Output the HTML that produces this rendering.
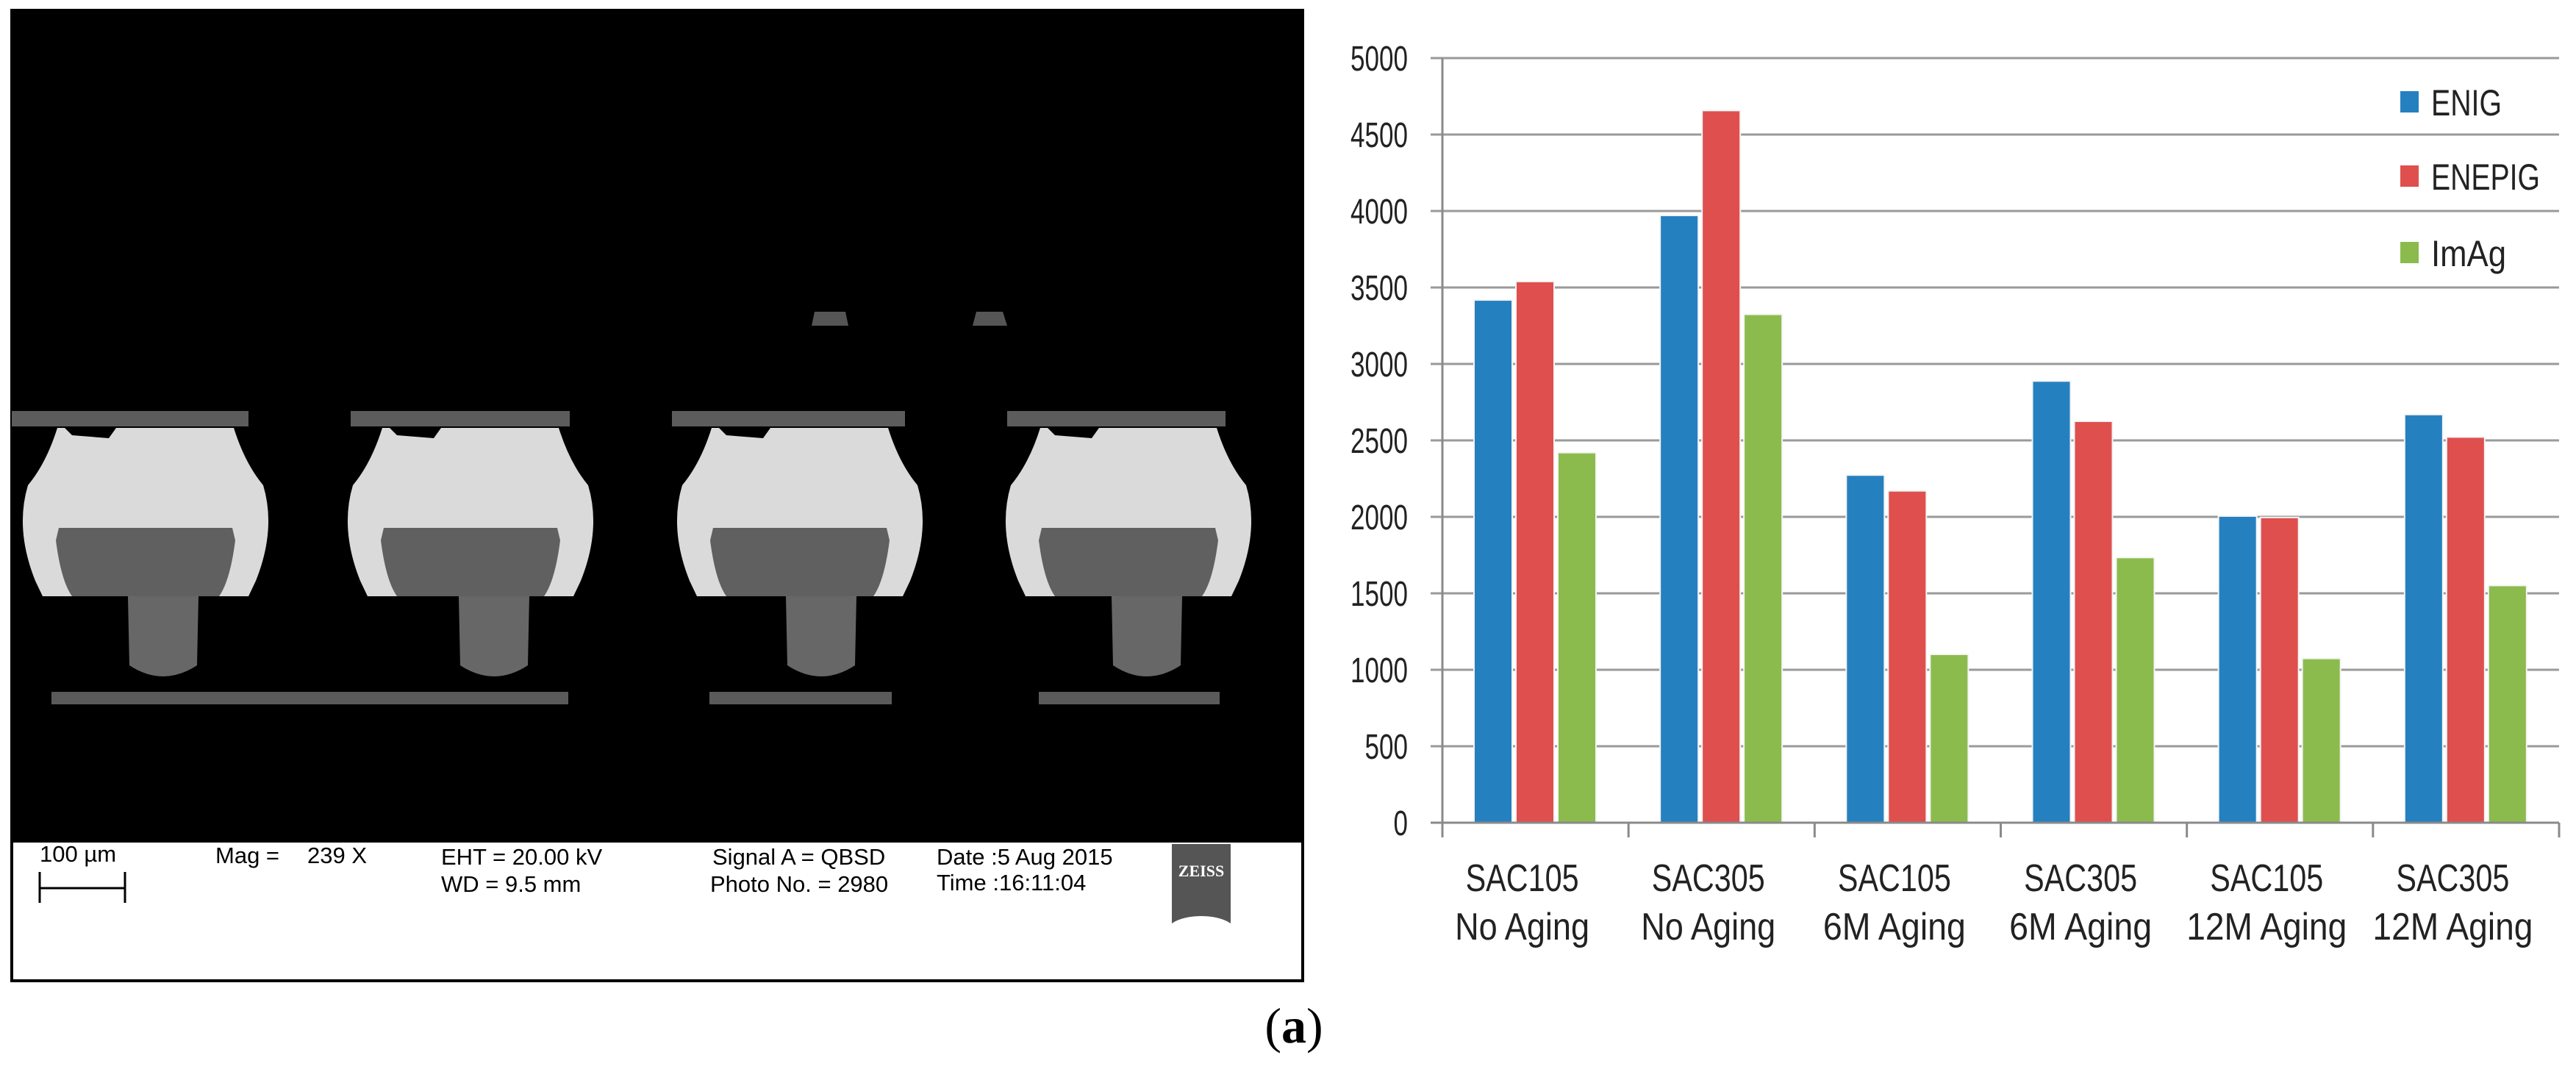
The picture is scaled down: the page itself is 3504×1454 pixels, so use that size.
<!DOCTYPE html>
<html><head><meta charset="utf-8"><style>
html,body{margin:0;padding:0;background:#fff;}
svg{display:block;}
text{font-family:"Liberation Sans",sans-serif;}
</style></head><body>
<svg id="root" width="3504" height="1454" viewBox="0 0 3504 1454" xmlns="http://www.w3.org/2000/svg">
  <g>
    <rect x="16" y="14" width="1756" height="1320" fill="#fff" stroke="#000" stroke-width="4"/>
    <rect x="16" y="14" width="1756" height="1132" fill="#000"/>
    <path d="M1104 443 L1108 424 L1150 424 L1154 443 Z" fill="#555"/>
    <path d="M1323 443 L1328 424 L1364 424 L1370 443 Z" fill="#555"/>
    <rect x="16" y="559" width="322" height="21" fill="#5c5c5c"/>
    <rect x="477" y="559" width="298" height="21" fill="#5c5c5c"/>
    <rect x="914" y="559" width="317" height="21" fill="#5c5c5c"/>
    <rect x="1370" y="559" width="297" height="21" fill="#5c5c5c"/>
    <rect x="70" y="941" width="703" height="17" fill="#5a5a5a"/>
    <rect x="965" y="941" width="248" height="17" fill="#5a5a5a"/>
    <rect x="1413" y="941" width="246" height="17" fill="#5a5a5a"/>
    <g id="balls"></g>
    <g font-size="31" fill="#000">
      <text x="54" y="1172">100 µm</text>
      <line x1="54" y1="1208" x2="170" y2="1208" stroke="#000" stroke-width="3"/>
      <line x1="54" y1="1186" x2="54" y2="1228" stroke="#000" stroke-width="3"/>
      <line x1="170" y1="1186" x2="170" y2="1228" stroke="#000" stroke-width="3"/>
      <text x="293" y="1174">Mag =</text>
      <text x="418" y="1174">239 X</text>
      <text x="600" y="1176">EHT = 20.00 kV</text>
      <text x="600" y="1213">WD =  9.5 mm</text>
      <text x="969" y="1176">Signal A = QBSD</text>
      <text x="966" y="1213">Photo No. = 2980</text>
      <text x="1274" y="1176">Date :5 Aug 2015</text>
      <text x="1274" y="1211">Time :16:11:04</text>
      <g>
        <rect x="1594" y="1148" width="80" height="112" fill="#555"/>
        <ellipse cx="1634" cy="1266" rx="46" ry="20" fill="#fff"/>
        <text x="1634" y="1192" style="font-family:'Liberation Serif',serif;font-weight:bold;font-size:22px" fill="#fff" text-anchor="middle">ZEISS</text>
      </g>
    </g>
  </g>

  <g id="chart">
    <g id="grid"></g>
    <g id="bars"></g>
    <g id="axes"></g>
    <g id="legend"></g>
  </g>

  <text x="1760" y="1418" style="font-family:'Liberation Serif',serif;font-size:68px" text-anchor="middle">(<tspan font-weight="bold">a</tspan>)</text>
</svg>
<script>
const categoriesLine1 = ["SAC105","SAC305","SAC105","SAC305","SAC105","SAC305"];
const categoriesLine2 = ["No Aging","No Aging","6M Aging","6M Aging","12M Aging","12M Aging"];
const seriesNames = ["ENIG","ENEPIG","ImAg"];
const enigValues = [3418,3971,2273,2888,2005,2669];
const enepigValues = [3539,4657,2170,2625,1996,2522];
const imagValues = [2420,3324,1101,1734,1074,1551];
const yTicks = [0,500,1000,1500,2000,2500,3000,3500,4000,4500,5000];

const NS = "http://www.w3.org/2000/svg";
const X0 = 1962, X1 = 3481, Y0 = 1119, Y5000 = 79, YMAX = 5000;
const catW = (X1 - X0) / categoriesLine1.length;
function yScale(v){ return Y0 - (v / YMAX) * (Y0 - Y5000); }
function xCat(i){ return X0 + i * catW; }
function mk(tag, attrs, parent){
  const e = document.createElementNS(NS, tag);
  for (const k in attrs) e.setAttribute(k, attrs[k]);
  parent.appendChild(e);
  return e;
}
const colors = ["#2580c0","#df4f4e","#8cbb4d"];
const series = [enigValues, enepigValues, imagValues];

const balls = document.getElementById('balls');
const ballCenters = [198, 640, 1088, 1535];
const stemCenters = [222, 672, 1117, 1560];
ballCenters.forEach((cx, i) => {
  const g = mk('g', {}, balls);
  
  
  const sc = stemCenters[i];
  mk('path', {d:`M${sc-48} 811 L${sc+48} 811 L${sc+46} 905 Q${sc} 935 ${sc-46} 905 Z`, fill:'#676767'}, g);
  mk('path', {d:`M${cx-120} 582 L${cx+120} 582 Q${cx+135} 630 ${cx+160} 660 Q${cx+178} 720 ${cx+150} 790 L${cx+140} 811 L${cx-140} 811 L${cx-150} 790 Q${cx-178} 720 ${cx-160} 660 Q${cx-135} 630 ${cx-120} 582 Z`, fill:'#dadada'}, g);
  mk('path', {d:`M${cx-118} 718 L${cx+118} 718 L${cx+122} 735 Q${cx+115} 790 ${cx+100} 811 L${cx-100} 811 Q${cx-115} 790 ${cx-122} 735 Z`, fill:'#606060'}, g);
  mk('path', {d:`M${cx-110} 582 L${cx-40} 582 L${cx-50} 596 L${cx-100} 592 Z`, fill:'#000'}, g);
});

const grid = document.getElementById('grid');
yTicks.forEach(t => {
  const y = yScale(t);
  const ln = mk('line', {x1:1946, y1:y, x2:X1, y2:y, stroke:'#9a9a9a', 'stroke-width':3}, grid);
  
  
  const s = String(t);
  const tx = mk('text', {x:1915, y:y+17, 'font-size':48, 'text-anchor':'end', fill:'#222', textLength: s.length*19.5, lengthAdjust:'spacingAndGlyphs'}, grid);
  tx.textContent = s;
  
  
});

const barsG = document.getElementById('bars');
const barOff = 43, barW = 52, barStep = 57;
categoriesLine1.forEach((c, i) => {
  series.forEach((vals, s) => {
    const x = xCat(i) + barOff + s * barStep;
    const y = yScale(vals[i]);
    const r = mk('rect', {x:x, y:y, width:barW, height:Y0 - y, fill:colors[s], stroke:'#f4f4f4', 'stroke-width':2}, barsG);
    
    
  });
});

const axes = document.getElementById('axes');
const ya = mk('line', {x1:X0, y1:Y5000, x2:X0, y2:1139, stroke:'#8a8a8a', 'stroke-width':3}, axes);


const xa = mk('line', {x1:1946, y1:Y0, x2:X1, y2:Y0, stroke:'#8a8a8a', 'stroke-width':3}, axes);


for (let i = 0; i <= categoriesLine1.length; i++) {
  const x = xCat(i);
  const tk = mk('line', {x1:x, y1:Y0, x2:x, y2:1139, stroke:'#8a8a8a', 'stroke-width':3}, axes);
  
  
}
categoriesLine1.forEach((c, i) => {
  const cx = xCat(i) + catW/2 - 18;
  const t1 = mk('text', {x:cx, y:1212, 'font-size':52, 'text-anchor':'middle', fill:'#222', textLength:154, lengthAdjust:'spacingAndGlyphs'}, axes);
  t1.textContent = c;
  
  
  const l2 = categoriesLine2[i];
  const w2 = l2.length === 8 && l2[0] === 'N' ? 183 : (l2.length === 8 ? 194 : 218);
  const t2 = mk('text', {x:cx, y:1278, 'font-size':52, 'text-anchor':'middle', fill:'#222', textLength:w2, lengthAdjust:'spacingAndGlyphs'}, axes);
  t2.textContent = l2;
  
  
});

const legend = document.getElementById('legend');
const legY = [157, 258, 362];
const legW = [96, 148, 102];
seriesNames.forEach((n, s) => {
  const g = mk('g', {}, legend);
  
  
  mk('rect', {x:3265, y:legY[s]-33, width:25, height:29, fill:colors[s]}, g);
  const t = mk('text', {x:3307, y:legY[s], 'font-size':50, fill:'#222', textLength:legW[s], lengthAdjust:'spacingAndGlyphs'}, g);
  t.textContent = n;
});
</script>
</body></html>
